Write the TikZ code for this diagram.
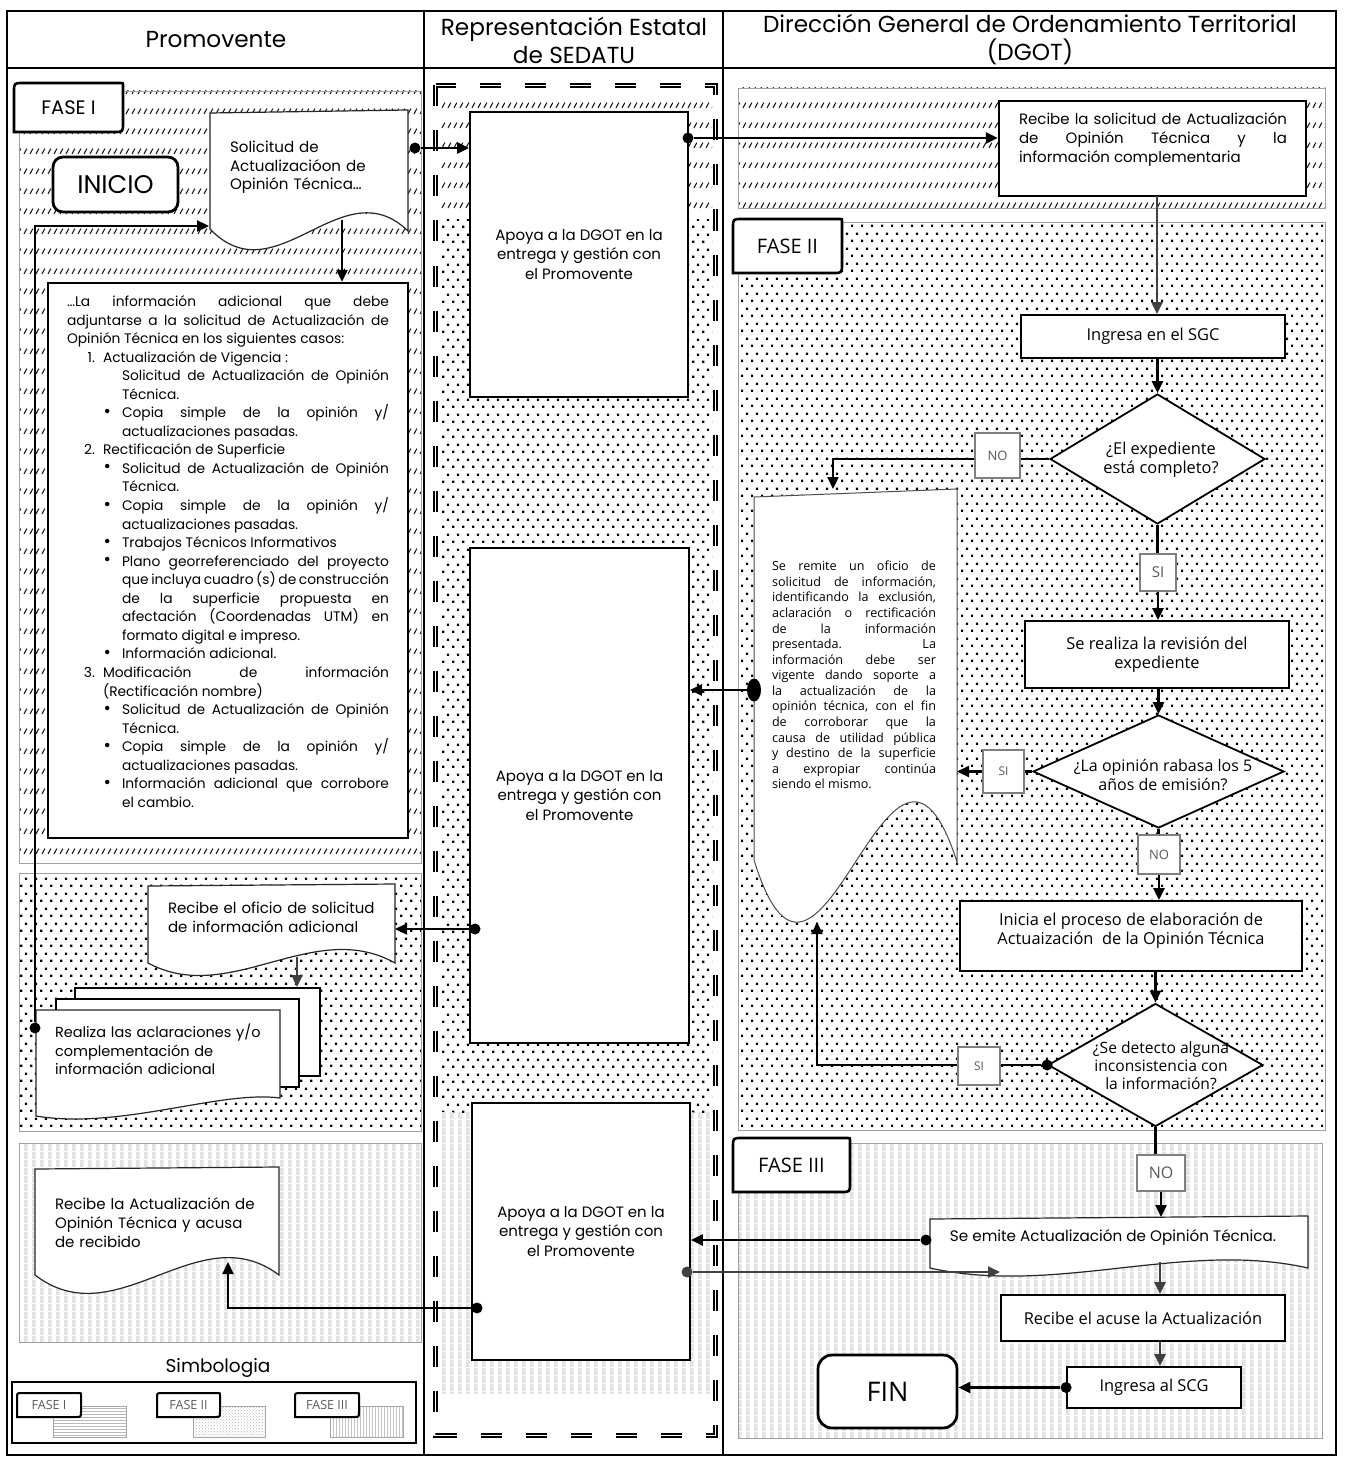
\documentclass[tikz,border=0pt]{standalone}
\usepackage{fontspec}
\setmainfont{Poppins}
\newfontfamily\dfont{Open Sans}
\usetikzlibrary{patterns,shapes.geometric,arrows.meta}
\newcommand\setfs[2]{\fontsize{#1}{#2}\selectfont}
\hbadness=10000 \hfuzz=30pt
\definecolor{dgray}{HTML}{404040}
\definecolor{lgray}{HTML}{7F7F7F}
\definecolor{sgray}{HTML}{E2E2E2}
\definecolor{rgray}{HTML}{A0A0A0}
\definecolor{tgray}{HTML}{595959}
\pgfdeclarepatternformonly{hatchd}{\pgfqpoint{0pt}{0pt}}{\pgfqpoint{5.8pt}{19.6pt}}{\pgfqpoint{5.8pt}{19.6pt}}{%
 \pgfsetlinewidth{1.1pt}%
 \pgfpathmoveto{\pgfqpoint{1pt}{1pt}}\pgfpathlineto{\pgfqpoint{4pt}{6.5pt}}\pgfusepath{stroke}}
\pgfdeclarepatternformonly{dotsp}{\pgfqpoint{0pt}{0pt}}{\pgfqpoint{10.3pt}{14.6pt}}{\pgfqpoint{10.3pt}{14.6pt}}{%
 \pgfpathrectangle{\pgfqpoint{0pt}{0pt}}{\pgfqpoint{2.4pt}{2.4pt}}%
 \pgfpathrectangle{\pgfqpoint{5.15pt}{7.3pt}}{\pgfqpoint{2.4pt}{2.4pt}}%
 \pgfusepath{fill}}
\pgfdeclarepatternformonly{vstripes}{\pgfqpoint{0pt}{0pt}}{\pgfqpoint{8.2pt}{8pt}}{\pgfqpoint{8.2pt}{8pt}}{%
 \pgfpathrectangle{\pgfqpoint{0pt}{0pt}}{\pgfqpoint{4pt}{8pt}}\pgfusepath{fill}}
\newenvironment{olist}{\begin{list}{}{\setlength\leftmargin{36pt}\setlength\labelwidth{16pt}\setlength\labelsep{8pt}\setlength\itemsep{0pt}\setlength\parsep{0pt}\setlength\topsep{0pt}\setlength\partopsep{0pt}\setlength\itemindent{0pt}}}{\end{list}}
\newenvironment{blist}{\begin{list}{}{\setlength\leftmargin{19pt}\setlength\labelwidth{10pt}\setlength\labelsep{11pt}\setlength\itemsep{0pt}\setlength\parsep{0pt}\setlength\topsep{0pt}\setlength\partopsep{0pt}\setlength\itemindent{0pt}}}{\end{list}}
\newcommand\bul{\raisebox{0.5pt}{\scalebox{1.3}{\textbullet}}}
\newcommand\faselab[9]{%
 \draw[line width=#7, fill=white] (#2,#5) -- (#2,#3+#6) .. controls (#2,#3) .. (#2+#6,#3) -- (#4-2,#3) .. controls (#4,#3) .. (#4,#3+2) -- (#4,#5-#6) .. controls (#4,#5) .. (#4-#6,#5) -- cycle;
 \node[inner sep=0pt, font=#8] (#1) at ({(#2+#4)/2},{(#3+#5)/2}) {#9};}
\tikzset{
 box/.style={draw, line width=1.8pt, fill=white, inner sep=0pt, align=center},
 docline/.style={draw=black!85, line width=1.2pt, fill=white},
 conn/.style={line width=2.3pt, -{Triangle[length=12pt,width=11pt]}},
 seg/.style={line width=2.3pt},
 gconn/.style={conn, draw=dgray},
 lbl/.style={draw=lgray, line width=1.5pt, fill=white, inner sep=0pt, text=tgray},
 diam/.style={diamond, draw, line width=1.8pt, fill=white, inner sep=0pt},
 txt/.style={inner sep=0pt},
 region/.style={draw=rgray, line width=0.8pt},
 dot/.style={circle, fill, inner sep=0pt, minimum size=11pt},
 apfont/.style={font=\setfs{15}{19.5}},
 dgfont/.style={font=\dfont\setfs{16.4}{19}},
}
\begin{document}
\begin{tikzpicture}[x=1pt,y=-1pt]
\useasboundingbox (0,0) rectangle (1345,1463);
\fill[white] (0,0) rectangle (1345,1463);
% ---- phase backgrounds
\fill[pattern=hatchd, pattern color=black!90] (19,91) rectangle (421,863);
\draw[region] (19,91) rectangle (421,863);
\fill[pattern=dotsp] (19,873) rectangle (421,1131);
\draw[region] (19,873) rectangle (421,1131);
\fill[pattern=vstripes, pattern color=sgray] (19,1143) rectangle (421,1342);
\draw[region] (19,1143) rectangle (421,1342);
\fill[pattern=hatchd, pattern color=black!90] (440,92) rectangle (712,220);
\fill[pattern=dotsp] (440,220) rectangle (712,1112);
\fill[pattern=vstripes, pattern color=sgray] (442,1112) rectangle (712,1393);
\fill[pattern=hatchd, pattern color=black!90] (738,88) rectangle (1325,208);
\draw[region] (738,88) rectangle (1325,208);
\fill[pattern=dotsp] (738,222) rectangle (1325,1130);
\draw[region] (738,222) rectangle (1325,1130);
\fill[pattern=vstripes, pattern color=sgray] (738,1143) rectangle (1322,1438);
\draw[region] (738,1143) rectangle (1322,1438);
% ---- frame
\draw[line width=1.2pt] (7,1455) -- (7,11) -- (1336,11) -- (1336,1455);
\draw[line width=1.2pt] (7,68) -- (1336,68);
\draw[line width=1.2pt] (424,11) -- (424,1455);
\draw[line width=1.2pt] (723,11) -- (723,1455);
\draw[line width=2.6pt] (6,1455) -- (1337,1455);
\node[font=\setfs{23.2}{28}] (hp) at (216,40) {Promovente};
\node[align=center, font=\setfs{23.2}{28}] (hr) at (574,40) {Representación Estatal\\de SEDATU};
\node[align=center, font=\setfs{23.2}{28}] (hd) at (1030,40) {Dirección General de Ordenamiento Territorial\\(DGOT)};
% ---- middle dashed double border
\draw[line width=1.5pt, double=white, double distance=1.1pt, dash pattern=on 21pt off 24pt] (435.5,85.5) rectangle (715.5,1435.5);
% ================= PROMOVENTE
\faselab{f1}{14}{83}{123}{132}{9}{2.6pt}{\setfs{19.5}{22}}{FASE I}
\node[draw, line width=2.8pt, rounded corners=10pt, fill=white, minimum width=125pt, minimum height=55pt, inner sep=0pt, font=\setfs{25.5}{28}] (inicio) at (115.5,184.5) {INICIO};
\draw[docline] (210,113) -- (408,110) -- (408,231) .. controls (342,167) and (276,298) .. (210,229) -- cycle;
\node[txt, text width=175pt, align=left, font=\setfs{15.1}{18.5}] (doc1) at (317.5,167.5) {Solicitud de\\Actualizacióon de\\Opinión Técnica…};
\node[draw, line width=2.4pt, fill=white, minimum width=360pt, minimum height=555pt, inner sep=0pt] (lst) at (228,560.5) {};
\node[txt, text width=322pt, align=justify, font=\setfs{13.8}{18.55}] (lsttxt) at (228,551.5) {%
…La información adicional que debe\linebreak adjuntarse a la solicitud de Actualización de\linebreak Opinión Técnica en los siguientes casos:
\begin{olist}
\item[1.] Actualización de Vigencia :
 \begin{blist}
 \item[] Solicitud de Actualización de Opinión\linebreak Técnica.
 \item[\bul] Copia simple de la opinión y/\linebreak actualizaciones pasadas.
 \end{blist}
\item[2.] Rectificación de Superficie
 \begin{blist}
 \item[\bul] Solicitud de Actualización de Opinión\linebreak Técnica.
 \item[\bul] Copia simple de la opinión y/\linebreak actualizaciones pasadas.
 \item[\bul] Trabajos Técnicos Informativos
 \item[\bul] Plano georreferenciado del proyecto\linebreak que incluya cuadro (s) de construcción\linebreak de la superficie propuesta en\linebreak afectación (Coordenadas UTM) en\linebreak formato digital e impreso.
 \item[\bul] Información adicional.
 \end{blist}
\item[3.] Modificación de información\linebreak (Rectificación nombre)
 \begin{blist}
 \item[\bul] Solicitud de Actualización de Opinión\linebreak Técnica.
 \item[\bul] Copia simple de la opinión y/\linebreak actualizaciones pasadas.
 \item[\bul] Información adicional que corrobore\linebreak el cambio.
 \end{blist}
\end{olist}};
% fase II left
\draw[docline] (148,886) -- (395,884) -- (395,963) .. controls (313,917) and (230,1007) .. (148,963) -- cycle;
\node[txt, text width=235pt, align=left, font=\setfs{15}{19}] (doc2) at (285.5,917.5) {Recibe el oficio de solicitud\\de información adicional};
\draw[line width=1.3pt, fill=white] (75,988) rectangle (320,1076);
\draw[line width=1.3pt, fill=white] (56,999) rectangle (299,1087);
\draw[docline] (36,1010) -- (280,1010) -- (280,1098) .. controls (220,1090) and (120,1130) .. (36,1116) -- cycle;
\node[txt, text width=225pt, align=left, font=\setfs{14.5}{18.5}] (mdoc) at (167.5,1049.5) {Realiza las aclaraciones y/o\\complementación de\\información adicional};
% fase III left
\draw[docline] (35,1169) -- (279,1167) -- (279,1275) .. controls (198,1214) and (117,1338) .. (35,1275) -- cycle;
\node[txt, text width=215pt, align=left, font=\setfs{15}{19}] (doc4) at (162.5,1223) {Recibe la Actualización de\\Opinión Técnica y acusa\\de recibido};
% legend
\node[txt, font=\setfs{18.5}{20}] (simb) at (218,1368) {Simbologia};
\node[draw, line width=2.2pt, minimum width=404pt, minimum height=61pt, inner sep=0pt] (leg) at (214,1412.5) {};
\fill[pattern=horizontal lines, pattern color=gray!55] (53,1406) rectangle (126,1437);
\draw[gray!70, line width=0.8pt] (53,1406) rectangle (126,1437);
\fill[pattern=crosshatch dots, pattern color=gray!55] (193,1406) rectangle (265,1437);
\draw[gray!70, line width=0.8pt] (193,1406) rectangle (265,1437);
\fill[pattern=vertical lines, pattern color=gray!45] (330,1406) rectangle (403,1437);
\draw[gray!70, line width=0.8pt] (330,1406) rectangle (403,1437);
\faselab{lf1}{17}{1393}{81}{1417}{5}{2pt}{\color{tgray}\dfont\setfs{12.5}{14}}{FASE I}
\faselab{lf2}{157}{1393}{220}{1417}{5}{2pt}{\color{tgray}\dfont\setfs{12.5}{14}}{FASE II}
\faselab{lf3}{295}{1393}{359}{1417}{5}{2pt}{\color{tgray}\dfont\setfs{12.5}{14}}{FASE III}
% ================= SEDATU
\node[box, apfont, minimum width=218pt, minimum height=285pt] (ap1) at (579,254.5) {Apoya a la DGOT en la\\entrega y gestión con\\el Promovente};
\node[box, apfont, minimum width=219pt, minimum height=495pt] (ap2) at (579.5,795.5) {Apoya a la DGOT en la\\entrega y gestión con\\el Promovente};
\node[box, apfont, minimum width=218pt, minimum height=257pt] (ap3) at (581,1231.5) {Apoya a la DGOT en la\\entrega y gestión con\\el Promovente};
% ================= DGOT
\node[box, line width=2.4pt, minimum width=307pt, minimum height=95pt] (rec) at (1152.5,148.5) {};
\node[txt, text width=268pt, align=justify, font=\setfs{15}{19}] (rectxt) at (1153,140) {Recibe la solicitud de Actualización\linebreak de Opinión Técnica y la\linebreak información complementaria};
\faselab{f2}{733}{219}{842}{273}{9}{2.6pt}{\dfont\setfs{20}{22}}{FASE II}
\node[box, dgfont, minimum width=264pt, minimum height=43pt] (ing) at (1153,336.5) {Ingresa en el SGC};
\node[diam, minimum width=215pt, minimum height=130pt] (dia1) at (1157.5,459) {};
\node[txt, align=center, dgfont] (dia1t) at (1161,459.5) {¿El expediente\\está completo?};
\node[box, dgfont, minimum width=264pt, minimum height=67pt] (rev) at (1157,654.5) {Se realiza la revisión del\\expediente};
\node[diam, minimum width=251pt, minimum height=113pt] (dia2) at (1158.5,771.5) {};
\node[txt, align=center, font=\dfont\setfs{16}{19}] (dia2t) at (1163,774.5) {¿La opinión rabasa los 5\\años de emisión?};
\node[box, minimum width=342pt, minimum height=70pt] (inic) at (1131,936) {};
\node[txt, align=center, dgfont] (inict) at (1131,930.5) {Inicia el proceso de elaboración de\\Actuaización\ \ de la Opinión Técnica};
\node[diam, minimum width=215pt, minimum height=123pt] (dia3) at (1155.5,1065) {};
\node[txt, align=center, font=\dfont\setfs{15.6}{18}] (dia3t) at (1161,1066) {¿Se detecto alguna\\inconsistencia con\\la información?};
\draw[draw=black!70, line width=1pt, fill=white] (754,497) -- (957,489) -- (957,862) .. controls (890,653) and (820,1073) .. (754,860) -- cycle;
\node[txt, text width=164pt, align=justify, font=\dfont\setfs{12.6}{15.57}] (bdoc) at (854,675) {Se remite un oficio de\linebreak solicitud de información,\linebreak identificando la exclusión,\linebreak aclaración o rectificación\linebreak de la información\linebreak presentada. La\linebreak información debe ser\linebreak vigente dando soporte a\linebreak la actualización de la\linebreak opinión técnica, con el fin\linebreak de corroborar que la\linebreak causa de utilidad pública\linebreak y destino de la superficie\linebreak a expropiar continúa\linebreak siendo el mismo.};
\faselab{f3}{733}{1138}{850}{1192}{9}{2.6pt}{\dfont\setfs{20}{22}}{FASE III}
\draw[docline] (930,1219) -- (1308,1216) -- (1308,1268) .. controls (1184,1240) and (1057,1296) .. (930,1268) -- cycle;
\node[txt, font=\setfs{15.2}{18}] (emit) at (1113,1237) {Se emite Actualización de Opinión Técnica.};
\node[box, dgfont, minimum width=284pt, minimum height=46pt] (acu) at (1143,1318) {Recibe el acuse la Actualización};
\node[box, dgfont, minimum width=174pt, minimum height=41pt] (scg) at (1154,1387.5) {Ingresa al SCG};
\node[draw, line width=2.8pt, rounded corners=14pt, fill=white, minimum width=139pt, minimum height=73pt, inner sep=0pt, font=\dfont\setfs{27}{30}] (fin) at (887.5,1391.5) {FIN};
% ---- decision labels
\node[lbl, minimum width=45pt, minimum height=45pt, font=\dfont\setfs{13}{14}] (no1) at (997.5,455.5) {NO};
\node[lbl, minimum width=36pt, minimum height=37pt, font=\dfont\setfs{15}{16}] (si1) at (1158,572.5) {SI};
\node[lbl, minimum width=41pt, minimum height=43pt, font=\dfont\setfs{12}{13}] (si2) at (1003.5,771.5) {SI};
\node[lbl, minimum width=42pt, minimum height=39pt, font=\dfont\setfs{13}{14}] (no2) at (1159,854.5) {NO};
\node[lbl, minimum width=42pt, minimum height=38pt, font=\dfont\setfs{12}{13}] (si3) at (979,1066) {SI};
\node[lbl, minimum width=48pt, minimum height=36pt, font=\dfont\setfs{16}{17}] (no3) at (1161,1173) {NO};
% ---- connection points
\coordinate (d1l) at (209,226);
\coordinate (d1b) at (342,220);
\coordinate (d2r) at (395,929);
\coordinate (d2b) at (297,957);
\coordinate (mdt) at (297,987);
\coordinate (d4b) at (228,1262);
\coordinate (recb) at (1157,196);
\coordinate (bdT) at (833,489);
\coordinate (bdR) at (957,772);
\coordinate (bdB) at (817,922);
\coordinate (emT) at (1158,1217);
\coordinate (emB) at (1160,1262);
\coordinate (emIn) at (1000,1272);
\node[dot] (d1r) at (415,148) {};
\node[dot] (ap1r) at (688,138) {};
\node[ellipse, fill, inner sep=0pt, minimum width=14pt, minimum height=23pt] (bdl) at (754,690) {};
\node[dot] (ap2l) at (475,929) {};
\node[dot] (mdl) at (35,1028) {};
\node[dot] (ap3l) at (477,1308) {};
\node[dot, fill=dgray] (ap3r) at (687,1272) {};
\node[dot] (d3l) at (dia3.west) {};
\node[dot] (eml) at (926,1240) {};
\node[dot] (scgl) at (scg.west) {};
% ---- connectors
\draw[conn] (d1r) -- (d1r -| ap1.west);
\draw[conn] (ap1r) -- (ap1r -| rec.west);
\draw[gconn] (recb) -- (recb |- ing.north);
\draw[conn] (dia1.north |- ing.south) -- (dia1.north);
\draw[seg] (dia1.west) -- (dia1.west -| no1.east);
\draw[conn] (no1.west |- dia1.west) -- (bdT |- dia1.west) -- (bdT);
\draw[seg] (dia1.south) -- (dia1.south |- si1.north);
\draw[conn] (si1.south) -- (si1.south |- rev.north);
\draw[conn] (dia2.north |- rev.south) -- (dia2.north);
\draw[seg] (dia2.west) -- (dia2.west -| si2.east);
\draw[conn] (si2.west |- dia2.west) -- (bdR |- dia2.west);
\draw[seg] (dia2.south) -- (dia2.south |- no2.north);
\draw[conn] (no2.south) -- (no2.south |- inic.north);
\draw[conn] (dia3.north |- inic.south) -- (dia3.north);
\draw[seg] (d3l) -- (d3l -| si3.east);
\draw[conn] (si3.west |- d3l) -- (bdB |- d3l) -- (bdB);
\draw[seg] (dia3.south) -- (dia3.south |- no3.north);
\draw[conn] (no3.south) -- (no3.south |- emT);
\draw[conn] (eml) -- (eml -| ap3.east);
\draw[gconn] (ap3r) -- (emIn);
\draw[gconn] (emB) -- (emB |- acu.north);
\draw[gconn] (emB |- acu.south) -- (emB |- scg.north);
\draw[conn] (scgl) -- (scgl -| fin.east);
\draw[conn] (bdl) -- (bdl -| ap2.east);
\draw[conn] (ap2l) -- (d2r);
\draw[gconn] (d2b) -- (mdt);
\draw[conn] (mdl) -- (mdl |- d1l) -- (d1l);
\draw[conn] (d1b) -- (d1b |- lst.north);
\draw[conn] (ap3l) -- (ap3l -| d4b) -- (d4b);
\end{tikzpicture}
\end{document}
